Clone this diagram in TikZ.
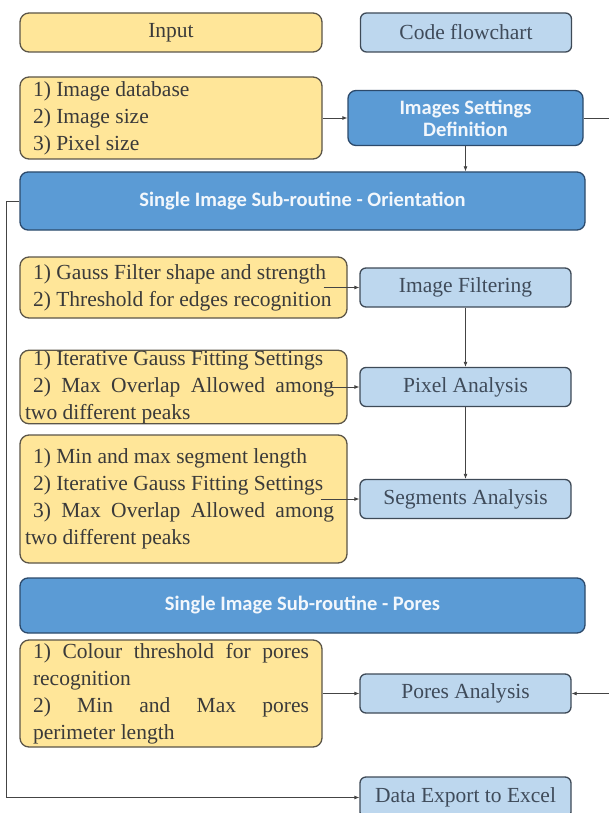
\documentclass[tikz,border=0pt]{standalone}
\usepackage{fontspec}
\setmainfont{Liberation Serif}
\newfontfamily\calfont{Carlito}
\usetikzlibrary{arrows.meta}
\usetikzlibrary{calc}

\definecolor{inyellow}{HTML}{FFE699}
\definecolor{inborder}{HTML}{5B5548}
\definecolor{lightblue}{HTML}{BDD7EE}
\definecolor{lbborder}{HTML}{3E4A57}
\definecolor{darkblue}{HTML}{5B9BD5}
\definecolor{dbborder}{HTML}{2C4A6B}
\definecolor{txtgray}{HTML}{3A3A3A}
\definecolor{txtblue}{HTML}{3F4B5A}
\definecolor{wirecol}{HTML}{444444}

\tikzset{
  inbox/.style={draw=inborder, fill=inyellow, line width=1.3pt, rounded corners=9pt,
    text=txtgray, font=\fontsize{21.5}{27}\selectfont, inner sep=0pt},
  inlist/.style={inbox, inner xsep=13pt, align=justify},
  flowbox/.style={draw=lbborder, fill=lightblue, line width=1.3pt, rounded corners=6pt,
    text=txtblue, font=\fontsize{21.5}{27}\selectfont, inner sep=0pt,
    minimum width=211pt, minimum height=39pt},
  mainbox/.style={draw=dbborder, fill=darkblue, line width=1.3pt, rounded corners=8pt,
    text=white!92!darkblue, font=\calfont\bfseries\fontsize{20.5}{22}\selectfont,
    inner sep=0pt, align=center},
  wire/.style={draw=wirecol, line width=0.8pt},
  arr/.style={wire, -{Latex[length=5pt,width=4pt]}}
}

\begin{document}
\begin{tikzpicture}[x=1pt, y=-1pt]
	\useasboundingbox (0,0) rectangle (608,813);

	%Legend
	\node[inbox, minimum width=302pt, minimum height=39pt] (legIn) at (171,32.5) {Input};
	\node[flowbox] (legCode) at (466,32.5) {Code flowchart};

	%Images settings
	\node[inlist, text width=276pt, minimum height=82pt] (imgIn) at (171,118)
		{1) Image database\\ 2) Image size\\ 3) Pixel size};
	\node[mainbox, minimum width=235pt, minimum height=55pt] (settings) at (465.5,118)
		{Images Settings\\ Definition};

	%Orientation sub-routine
	\node[mainbox, minimum width=565pt, minimum height=58pt] (orient) at (302.5,201)
		{Single Image Sub-routine - Orientation};
	\node[inlist, text width=301pt, minimum width=327pt, minimum height=61pt] (gaussIn) at (183.5,287.5)
		{1) Gauss Filter shape and strength\\ 2) Threshold for edges recognition};
	\node[flowbox] (filter) at (465.5,287.5) {Image Filtering};
	\node[inlist, text width=301pt, minimum width=327pt, minimum height=66pt] (pixIn) at (183.5,387)
		{1) Iterative Gauss Fitting Settings\\ 2) Max Overlap Allowed among\linebreak\hspace*{-8pt}two different peaks};
	\node[flowbox] (pixel) at (465.5,387) {Pixel Analysis};
	\node[inlist, text width=301pt, minimum width=327pt, minimum height=128pt] (segIn) at (183.5,499)
		{1) Min and max segment length\\ 2) Iterative Gauss Fitting Settings\\ 3) Max Overlap Allowed among\linebreak\hspace*{-8pt}two different peaks};
	\node[flowbox] (segment) at (465.5,499) {Segments Analysis};

	%Pores sub-routine
	\node[mainbox, minimum width=565pt, minimum height=55pt] (pores) at (302.5,605.5)
		{Single Image Sub-routine - Pores};
	\node[inlist, text width=276pt, minimum width=302pt, minimum height=107pt] (poreIn) at (171,693.5)
		{1) Colour threshold for pores\linebreak recognition\\ 2) Min and Max pores\linebreak perimeter length};
	\node[flowbox] (poreAn) at (465.5,693.5) {Pores Analysis};

	%Export
	\node[flowbox, minimum height=41pt] (export) at (465.5,797.5) {Data Export to Excel};

	%Connectors
	\draw[arr] (imgIn) -- (settings);
	\draw[arr] (settings.south) -- (settings.south |- orient.north);
	\draw[arr] ([xshift=-24pt]gaussIn.east) -- (filter);
	\draw[arr] ([xshift=-17pt]pixIn.east) -- (pixel);
	\draw[arr] ([xshift=-27pt]segIn.east) -- (segment);
	\draw[arr] (filter) -- (pixel);
	\draw[arr] (pixel) -- (segment);
	\draw[arr] (poreIn) -- (poreAn);
	\draw[arr] (settings.east) -- ++(32,0) |- (poreAn.east);
	\draw[arr] (orient.west) -- ++(-13,0) |- (export.west);

\end{tikzpicture}
\end{document}
